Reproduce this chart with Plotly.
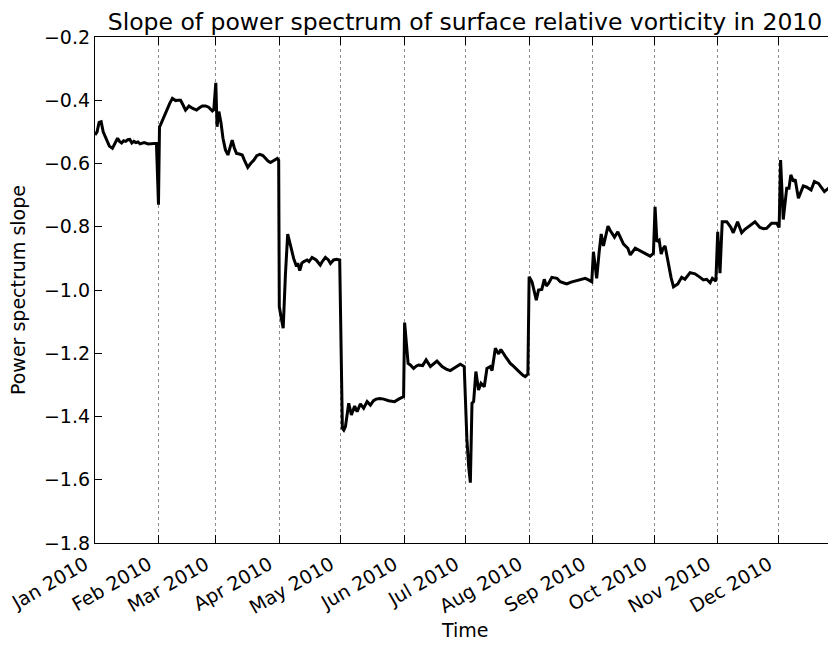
import pandas as pd
import plotly.graph_objects as go

# days since 1 Jan 2010 (fractional) and the slope read at that time
day_of_year = [
    0, 1, 2, 3, 4, 5, 6, 7, 8.5, 9.5, 11, 12, 13, 14, 15, 16, 17, 18, 19, 20,
    21, 22, 24, 26, 28, 30,
    31, 31.5, 32, 33, 34, 35.3, 36.5, 37.8, 39.4, 40.5, 41.8, 43, 44.2, 45,
    45.9, 47.5, 49.6, 51, 52.4, 54, 55.5, 57.3, 58,
    59, 59.6, 60.5, 61.5, 62.5, 63.7, 64.9, 66, 67, 68, 69.1, 70.5, 71.9, 73,
    74.6, 76, 77.6, 79, 80.5, 82, 83.3, 84.5, 85.7, 87, 89, 89.7,
    90, 91, 91.9, 93, 94.1, 95.5, 97, 98.4, 99, 100, 101, 102, 103.6, 104.5,
    106, 108, 110, 111, 112.5, 114, 115, 116.5, 118, 119.5,
    120.2, 120.8, 121.5, 122.3, 123.9, 125.2, 126.8, 128, 129.6, 131.2, 132.9,
    134.5, 136, 137.3, 139, 141, 143.4, 145, 146.3, 148.3, 150.7,
    151.2, 152.9, 154, 155.6, 157, 158, 160, 161.7, 163.8, 165.5, 167, 169.5,
    171.5, 173.5, 175, 176.8, 178.4, 180.3,
    181.6, 182.5, 183.3, 184.1, 184.9, 186, 187.3, 188.5, 190.1, 191.4, 193,
    193.9, 195.5, 197.1, 198.2, 200.3, 202.8, 204.2, 205.7, 207.6, 209, 210.1,
    211.4,
    212, 213.4, 214.5, 215.5, 216.6, 218.2, 219.4, 220.4, 221.5, 223.1, 225.6,
    227.2, 229, 230.4, 232.5, 234.5, 237, 239.4, 241, 242.6,
    243.4, 245, 246.2, 247.2, 248.3, 250.5, 251.6, 253.7, 255.3, 256.8, 258.1,
    260.2, 261.4, 263.8, 265.5, 267.1, 269, 271.1, 272.7,
    273.5, 274.4, 275.5, 276.5, 277.3, 278.4, 280, 281.3, 282.5, 284.6, 286.5,
    288.1, 290.6, 293, 295.5, 297.1, 298.7, 300.4, 301.5, 303.2,
    304.1, 305.2, 306.3, 308.5, 310.5, 311.7, 313.8, 315.8, 317.4, 319.8,
    322.3, 324.7, 326.5, 328, 330.4, 332.9, 334.1,
    334.8, 336.1, 337.8, 338.9, 339.8, 341.1, 341.9, 343.5, 345.9, 347.6,
    349.7, 351.3, 353.3, 356.2, 358.2, 359.8, 361.4,
]

slope = [
    -0.51, -0.50, -0.47, -0.468, -0.50, -0.515, -0.53, -0.545, -0.552, -0.54,
    -0.52, -0.53, -0.535, -0.528, -0.53, -0.525, -0.524, -0.535, -0.53, -0.534,
    -0.532, -0.538, -0.534, -0.538, -0.537, -0.536,
    -0.73, -0.484, -0.478, -0.462, -0.445, -0.425, -0.41, -0.394, -0.401,
    -0.40, -0.40, -0.415, -0.431, -0.425, -0.418, -0.425, -0.431, -0.424,
    -0.418, -0.418, -0.422, -0.434, -0.43,
    -0.345, -0.484, -0.436, -0.47, -0.52, -0.557, -0.573, -0.545, -0.526,
    -0.55, -0.568, -0.57, -0.573, -0.59, -0.612, -0.60, -0.589, -0.575, -0.571,
    -0.575, -0.584, -0.592, -0.597, -0.592, -0.584, -0.59,
    -1.053, -1.09, -1.121, -0.95, -0.823, -0.86, -0.90, -0.926, -0.915,
    -0.939, -0.915, -0.91, -0.905, -0.91, -0.897, -0.905, -0.921, -0.91,
    -0.897, -0.905, -0.916, -0.905, -0.903, -0.905,
    -1.30, -1.437, -1.443, -1.432, -1.358, -1.395, -1.367, -1.385, -1.36,
    -1.374, -1.353, -1.364, -1.35, -1.345, -1.343, -1.345, -1.35, -1.352,
    -1.353, -1.345, -1.337,
    -1.103, -1.232, -1.237, -1.248, -1.24, -1.237, -1.239, -1.221, -1.242,
    -1.232, -1.225, -1.242, -1.25, -1.255, -1.248, -1.242, -1.235, -1.242,
    -1.47, -1.56, -1.609, -1.358, -1.353, -1.258, -1.316, -1.295, -1.306,
    -1.248, -1.242, -1.255, -1.184, -1.202, -1.188, -1.209, -1.232, -1.24,
    -1.248, -1.261, -1.27, -1.274, -1.266,
    -0.958, -0.974, -1.0, -1.032, -1.0, -0.998, -0.966, -0.987, -0.979,
    -0.96, -0.963, -0.974, -0.978, -0.981, -0.975, -0.971, -0.968, -0.963,
    -0.968, -0.974,
    -0.879, -0.963, -0.88, -0.823, -0.861, -0.798, -0.812, -0.833, -0.816,
    -0.835, -0.855, -0.868, -0.889, -0.868, -0.874, -0.879, -0.886, -0.893,
    -0.884,
    -0.737, -0.847, -0.842, -0.886, -0.87, -0.861, -0.921, -0.96, -0.99,
    -0.981, -0.96, -0.966, -0.945, -0.949, -0.96, -0.968, -0.966, -0.977,
    -0.963, -0.972,
    -0.816, -0.947, -0.784, -0.784, -0.802, -0.819, -0.784, -0.819, -0.808,
    -0.795, -0.784, -0.802, -0.806, -0.805, -0.789, -0.789, -0.802,
    -0.589, -0.777, -0.678, -0.678, -0.636, -0.657, -0.65, -0.71, -0.671,
    -0.675, -0.684, -0.657, -0.663, -0.689, -0.678, -0.692, -0.678,
]

month_starts = ['2010-01-01', '2010-02-01', '2010-03-01', '2010-04-01',
                '2010-05-01', '2010-06-01', '2010-07-01', '2010-08-01',
                '2010-09-01', '2010-10-01', '2010-11-01', '2010-12-01']
month_labels = ['Jan 2010', 'Feb 2010', 'Mar 2010', 'Apr 2010', 'May 2010',
                'Jun 2010', 'Jul 2010', 'Aug 2010', 'Sep 2010', 'Oct 2010',
                'Nov 2010', 'Dec 2010']

times = pd.Timestamp('2010-01-01') + pd.to_timedelta(day_of_year, unit='D')

FONT = 'DejaVu Sans'

fig = go.Figure()
fig.add_trace(go.Scatter(x=times, y=slope, mode='lines',
                         line=dict(color='black', width=3)))

# the page body adds an 8px margin, so the figure is sized 8px smaller
fig.update_layout(
    width=828, height=637,
    margin=dict(l=87, r=1, t=29, b=102),
    paper_bgcolor='white', plot_bgcolor='white',
    showlegend=False,
    font=dict(family=FONT, size=19, color='black'),
    title=dict(text='Slope of power spectrum of surface relative vorticity in 2010',
               font=dict(family=FONT, size=23.5, color='black'),
               x=0.5, xref='paper', xanchor='center',
               y=1 - 14 / 637, yref='container', yanchor='middle'),
    xaxis=dict(type='date', automargin=False,
               range=['2010-01-01', '2010-12-28 09:00'],
               tickmode='array', tickvals=month_starts, ticktext=month_labels,
               tickangle=-30, ticks='inside', ticklen=8, tickcolor='black',
               tickwidth=1, ticklabelshift=-10, ticklabelstandoff=2,
               ticklabeloverflow='allow',
               showline=True, linecolor='black', linewidth=1.3, mirror='ticks',
               showgrid=True, gridcolor='#8c8c8c', gridwidth=1, griddash='dot',
               zeroline=False, tickfont=dict(family=FONT, size=19)),
    yaxis=dict(range=[-1.8, -0.2], dtick=0.2, tick0=-1.8, tickformat='.1f',
               automargin=False,
               ticks='inside', ticklen=7, tickcolor='black', tickwidth=1,
               showline=True, linecolor='black', linewidth=1.3, mirror='ticks',
               showgrid=False, zeroline=False,
               tickfont=dict(family=FONT, size=19)),
    annotations=[
        dict(text='Time', xref='paper', yref='paper', x=0.5, y=-0.172,
             xanchor='center', yanchor='middle', showarrow=False,
             font=dict(family=FONT, size=19)),
        dict(text='Power spectrum slope', xref='paper', yref='paper',
             x=-0.104, y=0.5, textangle=-90, xanchor='center',
             yanchor='middle', showarrow=False,
             font=dict(family=FONT, size=19)),
    ],
)

fig.write_html("out.html")
